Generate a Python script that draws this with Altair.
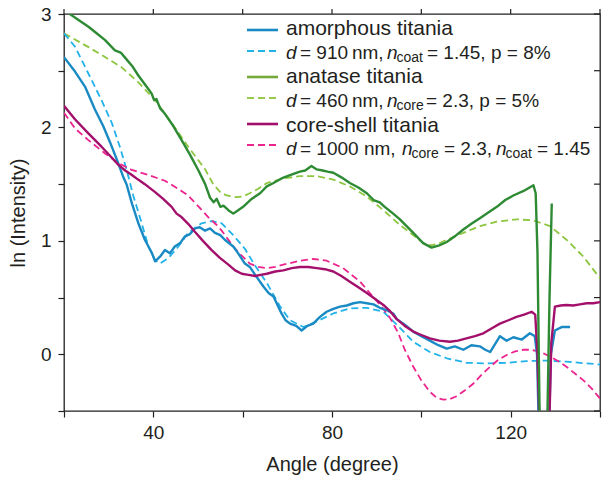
import altair as alt
import pandas as pd

# ---------------- data ----------------
amo_x = [20, 22.5, 24.7, 26.9, 28.8, 30.3, 31.8, 33.2, 34.0, 35.2, 36.6, 38.1, 39.6, 40.4,
         41.5, 42.6, 43.7, 44.8, 46.0, 47.1, 48.2, 49.3, 50.4, 51.6, 52.7, 53.8, 55.0, 56.0,
         57.9, 59.0, 60.5, 61.6, 62.8, 64.6, 65.8, 66.9, 68.7, 69.6, 70.6, 72.0, 73.2, 74.5,
         75.8, 77.3, 78.8, 80.3, 81.8, 83.3, 84.8, 86.3, 87.8, 89.3, 90.7, 92.2, 93.7, 94.5,
         96.3, 98.2, 100.0, 101.9, 103.8, 105.7, 107.5, 109.4, 111.2, 113.1, 114.3, 115.4,
         116.5, 117.6, 119.1, 120.6, 122.5, 124.3, 125.4, 125.9, 126.4, 127.5, 128.5, 129.0,
         129.9, 131.4, 133.3]
amo_y = [2.62, 2.49, 2.36, 2.16, 2.01, 1.87, 1.72, 1.57, 1.50, 1.33, 1.16, 1.01, 0.90, 0.82,
         0.86, 0.92, 0.89, 0.95, 0.98, 1.04, 1.06, 1.11, 1.12, 1.09, 1.11, 1.07, 1.05, 1.01,
         0.95, 0.89, 0.80, 0.77, 0.70, 0.60, 0.54, 0.51, 0.36, 0.30, 0.27, 0.25, 0.21, 0.25,
         0.27, 0.33, 0.375, 0.40, 0.42, 0.43, 0.45, 0.46, 0.45, 0.44, 0.41, 0.39, 0.36, 0.31,
         0.26, 0.20, 0.16, 0.12, 0.08, 0.05, 0.07, 0.04, 0.08, 0.07, 0.04, 0.02,
         0.09, 0.16, 0.12, 0.15, 0.13, 0.185, 0.16, 0.0, -0.8, -1.5, -0.8, 0.0,
         0.21, 0.24, 0.24]

amo_fit_x = [20, 22.5, 25.4, 28.4, 30.7, 32.5, 34.0, 35.5, 37.4, 38.9, 40.4, 41.5, 43.4, 45.6,
             47.8, 50.8, 53.1, 55.3, 57.9, 60.5, 62.8, 65.4, 68.4, 70.6, 73.6, 76.6, 80.3,
             84.0, 87.8, 91.5, 94.8, 98.2, 101.9, 105.7, 110.1, 114.6, 119.1, 123.5, 128.0,
             132.5, 137.0, 140]
amo_fit_y = [2.83, 2.71, 2.48, 2.24, 2.04, 1.83, 1.63, 1.40, 1.155, 0.95, 0.83, 0.80, 0.85, 0.95,
             1.07, 1.155, 1.175, 1.155, 1.05, 0.93, 0.78, 0.63, 0.42, 0.30, 0.24, 0.29, 0.36,
             0.405, 0.41, 0.375, 0.25, 0.11, 0.02, -0.035, -0.075, -0.08, -0.075, -0.06, -0.056,
             -0.065, -0.08, -0.09]

ana_x = [20, 21.3, 23.5, 25.4, 27.3, 29.2, 31.4, 32.7, 34.0, 35.3, 36.6, 38.1, 39.6, 40.2,
         40.7, 41.5, 42.6, 44.5, 46.3, 48.2, 50.1, 51.6, 52.7, 53.5, 54.2, 55.0, 55.7, 56.8,
         57.9, 59.0, 60.1, 62.0, 63.9, 65.4, 66.9, 68.7, 70.6, 72.8, 74.0, 75.4, 76.6, 77.9,
         79.0, 80.3, 82.1, 84.0, 85.9, 87.8, 89.3, 90.7, 91.8, 93.7, 95.2, 96.7, 98.2, 100.4,
         102.3, 104.0, 105.7, 107.5, 109.4, 111.2, 113.1, 115.0, 116.9, 118.8, 120.6, 122.9,
         125.1, 125.6, 126.0, 126.5, 127.4, 128.2, 128.7, 129.2]
ana_y = [3.06, 3.0, 2.94, 2.89, 2.83, 2.77, 2.68, 2.66, 2.60, 2.54, 2.46, 2.38, 2.30, 2.24,
         2.25, 2.17, 2.12, 2.01, 1.89, 1.76, 1.62, 1.50, 1.38, 1.34, 1.37, 1.30, 1.31, 1.27,
         1.24, 1.27, 1.30, 1.37, 1.42, 1.48, 1.51, 1.55, 1.58, 1.61, 1.62, 1.66, 1.63, 1.62,
         1.61, 1.60, 1.56, 1.51, 1.47, 1.42, 1.36, 1.34, 1.30, 1.24, 1.19, 1.13, 1.07, 0.98,
         0.94, 0.96, 0.99, 1.04, 1.10, 1.15, 1.20, 1.25, 1.30, 1.36, 1.40, 1.44,
         1.49, 1.42, 0.9, -0.6, -1.5, -0.6, 0.5, 1.33]

ana_fit_x = [20, 25.4, 29.2, 32.9, 36.6, 40.4, 44.1, 47.8, 51.6, 53.4, 55.0, 56.4, 58.6, 60.0,
             61.6, 63.5, 65.4, 69.1, 72.8, 76.6, 80.3, 84.0, 87.8, 91.5, 95.2, 98.2, 100.5,
             101.9, 103.5, 105.7, 109.4, 113.1, 116.9, 121.3, 125.1, 128.8, 132.5, 136.3, 140]
ana_fit_y = [2.83, 2.71, 2.62, 2.53, 2.40, 2.24, 2.04, 1.83, 1.63, 1.50, 1.43, 1.40, 1.385, 1.39,
             1.42, 1.46, 1.51, 1.55, 1.57, 1.57, 1.54, 1.48, 1.39, 1.27, 1.14, 1.05, 0.98,
             0.96, 0.97, 1.01, 1.07, 1.13, 1.17, 1.19, 1.18, 1.13, 1.01, 0.86, 0.67]

cs_x = [20, 22.5, 25.4, 28.4, 30.3, 32.2, 33.7, 35.2, 36.6, 38.1, 40.4, 42.2, 44.1, 45.2, 46.3,
        47.8, 49.3, 51.1, 53.0, 54.9, 56.8, 58.3, 59.8, 61.3, 62.8, 64.0, 65.4, 67.3, 69.1,
        71.0, 72.8, 74.7, 76.6, 78.4, 80.3, 82.1, 84.0, 85.9, 87.8, 89.6, 91.5, 93.0, 94.5,
        96.3, 98.2, 100.0, 101.9, 104.0, 106.4, 108.2, 110.1, 112.0, 113.9, 115.8, 117.6,
        119.5, 121.3, 123.0, 124.7, 125.5, 126.0, 126.5, 127.6, 128.6, 129.1, 129.9, 131.2,
        132.5, 134.0, 135.5, 137.0, 138.5, 140]
cs_y = [2.19, 2.07, 1.95, 1.83, 1.75, 1.67, 1.62, 1.58, 1.54, 1.50, 1.43, 1.37, 1.30, 1.24, 1.21,
        1.15, 1.08, 1.00, 0.92, 0.85, 0.79, 0.74, 0.71, 0.70, 0.69, 0.70, 0.71, 0.73, 0.74,
        0.76, 0.77, 0.77, 0.76, 0.75, 0.73, 0.69, 0.64, 0.59, 0.54, 0.49, 0.435, 0.38, 0.31,
        0.25, 0.20, 0.17, 0.14, 0.12, 0.11, 0.12, 0.14, 0.16, 0.185, 0.23, 0.27,
        0.30, 0.33, 0.35, 0.375, 0.35, 0.0, -0.7, -1.5, -0.7, 0.1, 0.42, 0.43,
        0.435, 0.43, 0.44, 0.45, 0.45, 0.46]

cs_fit_x = [20, 22.5, 25.4, 29.2, 32.2, 35.2, 38.9, 42.6, 46.3, 47.8, 50.4, 52.5, 54.2, 55.3,
            57.9, 59.0, 61.6, 63.5, 65.4, 67.3, 69.1, 72.8, 75.8, 78.8, 82.5, 86.3, 90.0, 91.5,
            93.0, 94.8, 96.3, 98.2, 100.0, 101.9, 103.5, 104.9, 106.4, 107.9, 109.7, 111.6,
            113.5, 115.4, 117.2, 119.1, 121.0, 122.8, 124.3, 125.8, 127.3, 128.8, 130.6, 132.5,
            134.4, 136.3, 138.1, 140]
cs_fit_y = [2.13, 1.99, 1.89, 1.77, 1.685, 1.625, 1.58, 1.53, 1.44, 1.40, 1.29, 1.20, 1.14, 1.09,
            0.95, 0.90, 0.80, 0.77, 0.76, 0.77, 0.79, 0.825, 0.84, 0.825, 0.76, 0.64, 0.47, 0.40,
            0.32, 0.19, 0.04, -0.11, -0.23, -0.33, -0.385, -0.40, -0.395, -0.37, -0.32, -0.26,
            -0.18, -0.11, -0.05, -0.006, 0.025, 0.04, 0.04, 0.03, 0.01, -0.02, -0.06, -0.11,
            -0.17, -0.23, -0.30, -0.39]

x_ticks = [20, 40, 60, 80, 100, 120, 140]
y_ticks = [-0.5, 0, 0.5, 1, 1.5, 2, 2.5, 3]

legend_labels = ["amorphous titania", "anatase titania", "core-shell titania"]

# ---------------- styling ----------------
FONT = "Liberation Sans"
TXT = "#231f20"
W, H = 536, 397
X0, X1, Y0, Y1 = 20, 140, -0.5, 3

xscale = alt.Scale(domain=[X0, X1], nice=False, zero=False)
yscale = alt.Scale(domain=[Y0, Y1], nice=False, zero=False)

common_axis = dict(grid=False, domain=False, tickColor=TXT, tickWidth=1.2,
                   labelFont=FONT, labelColor=TXT, labelFontSize=19,
                   titleFont=FONT, titleColor=TXT, titleFontSize=20, titleFontWeight="normal")

ax_bottom = alt.Axis(orient="bottom", values=x_ticks, tickSize=6, labelPadding=6,
                     labelExpr="datum.value % 40 === 0 ? '' + datum.value : ''",
                     title="Angle (degree)", titlePadding=12, **common_axis)
ax_left = alt.Axis(orient="left", values=y_ticks, tickSize=6, labelPadding=7,
                   labelExpr="datum.value % 1 === 0 ? '' + datum.value : ''",
                   title="ln (Intensity)", titlePadding=12, **common_axis)


def series(xs, ys, color, dash=None, width=2.4):
    df = pd.DataFrame({"angle": xs, "lnI": ys})
    kw = dict(color=color, strokeWidth=width, clip=True, strokeJoin="round")
    if dash:
        kw["strokeDash"] = dash
    return alt.Chart(df).mark_line(**kw).encode(
        x=alt.X("angle:Q", scale=xscale, axis=ax_bottom),
        y=alt.Y("lnI:Q", scale=yscale, axis=ax_left),
    )


DASH = [7, 4]
layers = [
    series(ana_fit_x, ana_fit_y, "#8dc63f", DASH, 1.8),
    series(amo_fit_x, amo_fit_y, "#22b2ea", DASH, 1.8),
    series(cs_fit_x, cs_fit_y, "#ec248e", DASH, 1.8),
    series(amo_x, amo_y, "#1a8ac4", None, 2.4),
    series(cs_x, cs_y, "#a3106c", None, 2.4),
    series(ana_x, ana_y, "#2e8b34", None, 2.4),
]

# frame ticks on top (outward, 5 px) and right (inward, 6 px), built from the tick
# lists and drawn through the same scales as the curves (two-point segments)
top_len = 5 / H * (Y1 - Y0)
right_len = 6 / W * (X1 - X0)
top_df = pd.DataFrame({
    "angle": [t for t in x_ticks for _ in (0, 1)],
    "lnI": [Y1, Y1 + top_len] * len(x_ticks),
    "tick": [f"t{t}" for t in x_ticks for _ in (0, 1)],
})
right_df = pd.DataFrame({
    "angle": [X1 - right_len, X1] * len(y_ticks),
    "lnI": [t for t in y_ticks for _ in (0, 1)],
    "tick": [f"r{t}" for t in y_ticks for _ in (0, 1)],
})
for tdf in (top_df, right_df):
    layers.append(alt.Chart(tdf).mark_line(color=TXT, strokeWidth=1.2).encode(
        x=alt.X("angle:Q", scale=xscale, axis=ax_bottom),
        y=alt.Y("lnI:Q", scale=yscale, axis=ax_left),
        detail="tick:N",
    ))

# ---------------- custom legend (annotation) ----------------
leg_lines = [(16, "#1a8ac4", None), (37, "#22b2ea", DASH), (63, "#76a93c", None),
             (84, "#97cb4e", DASH), (110, "#a3106c", None), (131, "#ec248e", DASH)]
for yy, col, dash in leg_lines:
    kw = dict(color=col, strokeWidth=2.6 if dash is None else 2.0)
    if dash:
        kw["strokeDash"] = DASH
    layers.append(alt.Chart().mark_rule(**kw).encode(
        x=alt.value(183), x2=alt.value(214), y=alt.value(yy)))


def txt(s, x, y, size=19, italic=False):
    kw = dict(align="left", baseline="alphabetic", font=FONT, fontSize=size, color=TXT)
    if italic:
        kw["fontStyle"] = "italic"
    return alt.Chart().mark_text(**kw).encode(
        x=alt.value(x), y=alt.value(y), text=alt.value(s))


layers += [
    txt(legend_labels[0], 222, 21, 21),
    txt(legend_labels[1], 222, 68.7, 21),
    txt(legend_labels[2], 222, 117.7, 21),
    # row 2
    txt("d", 222, 45.3, 19, True),
    txt("= 910\u2009nm,", 236, 45.3),
    txt("n", 323, 45.3, 19, True),
    txt("coat", 332.5, 48, 14),
    txt("= 1.45, p = 8%", 363, 45.3),
    # row 4
    txt("d", 222, 93.3, 19, True),
    txt("= 460\u2009nm,", 236, 93.3),
    txt("n", 323, 93.3, 19, True),
    txt("core", 332.5, 96, 14),
    txt("= 2.3, p = 5%", 362, 93.3),
    # row 6
    txt("d", 222, 141, 19, True),
    txt("= 1000 nm,", 236, 141),
    txt("n", 338, 141, 19, True),
    txt("core", 347.5, 143.7, 14),
    txt("= 2.3,", 380, 141),
    txt("n", 432, 141, 19, True),
    txt("coat", 441.5, 143.7, 14),
    txt("= 1.45", 473, 141),
]

chart = alt.layer(*layers).properties(
    width=W, height=H,
    autosize=alt.AutoSizeParams(type="none"),
    padding={"left": 64, "top": 14, "right": 2, "bottom": 70},
    background="white",
).configure_view(stroke=TXT, strokeWidth=1.3)

chart.save("out.html", embed_options={"renderer": "svg", "actions": False})
